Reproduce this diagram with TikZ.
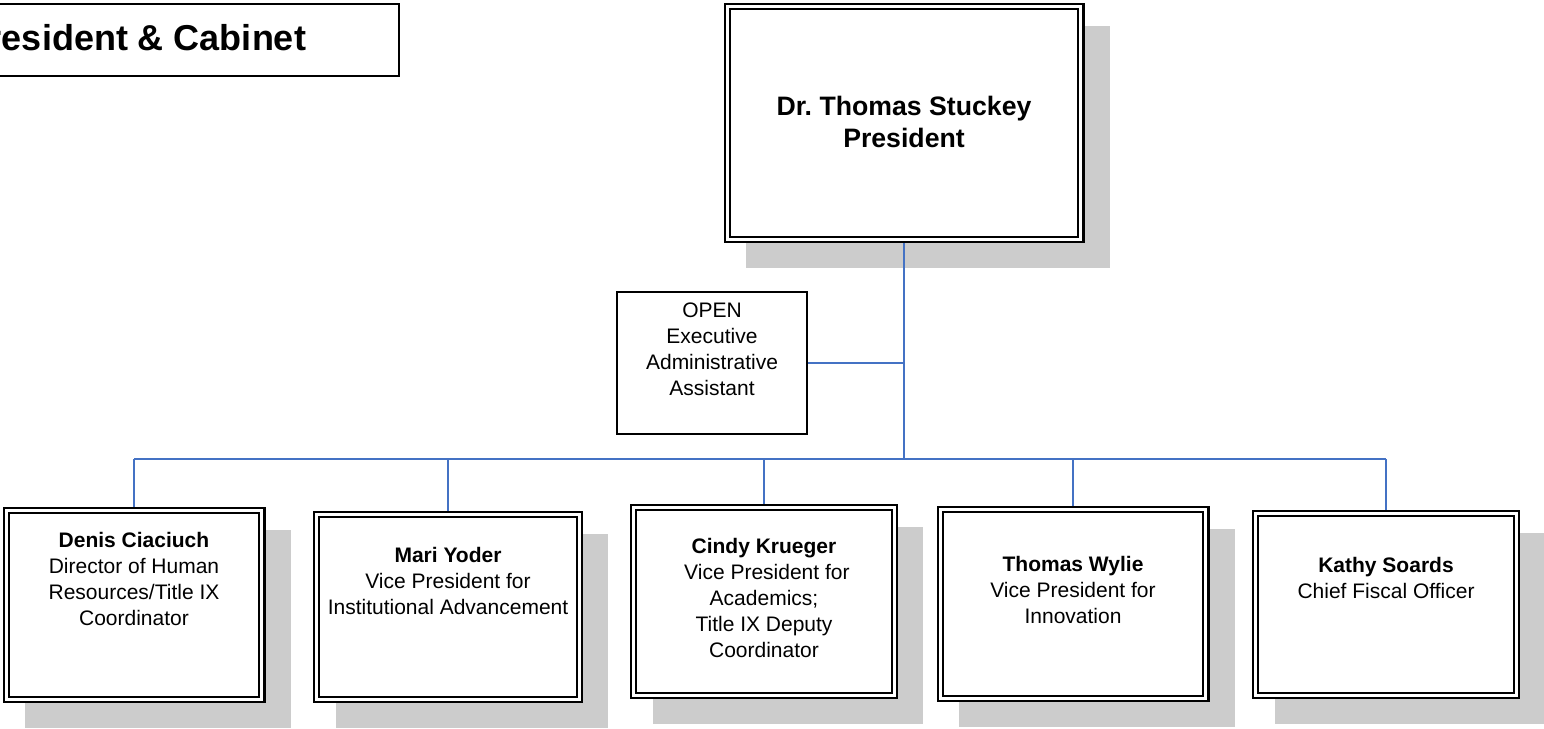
\documentclass[tikz,border=0pt]{standalone}
\usepackage{fontspec}
\setmainfont{Liberation Sans}
\usetikzlibrary{backgrounds}
\definecolor{shadowgray}{RGB}{204,204,204}
\definecolor{connblue}{RGB}{68,114,196}
\frenchspacing
\begin{document}
\begin{tikzpicture}[x=0.75pt,y=-0.75pt,
  dbox/.style 2 args={draw, line width=1.6pt, double, double distance=2.2pt, fill=white, inner sep=0pt, minimum width=#1*0.75pt, minimum height=#2*0.75pt},
  sbox/.style 2 args={draw, line width=1.3pt, fill=white, inner sep=0pt, minimum width=#1*0.75pt, minimum height=#2*0.75pt},
  txt/.style={align=center, anchor=base, inner sep=0pt, font=\fontsize{15.75pt}{19.5pt}\selectfont},
  ptxt/.style={align=center, anchor=base, inner sep=0pt, font=\bfseries\fontsize{20pt}{24pt}\selectfont},
  conn/.style={draw=connblue, line width=1.3pt},
  shadowbox/.style={fill=shadowgray}]
\useasboundingbox (0,0) rectangle (1544,728);

% title
\node[sbox={529}{72}, line width=1.5pt] (titlebox) at (134.5,40) {};
\node[anchor=base, inner sep=0pt, font=\bfseries\fontsize{27pt}{32pt}\selectfont] (title) at (135,50) {President \& Cabinet};

% president
\node[dbox={353.8}{232.8}] (pres) at (904,123) {};
\node[ptxt] (prest) at (904,147) {Dr. Thomas Stuckey\\President};

% open
\node[sbox={190.3}{142.3}] (open) at (712,363) {};
\node[txt] (opent) at (712,395) {OPEN\\Executive\\Administrative\\Assistant};

% bottom row
\node[dbox={255.8}{188.8}] (denis) at (134,605) {};
\node[txt] (denist) at (134,625) {\textbf{Denis Ciaciuch}\\Director of Human\\Resources/Title IX\\Coordinator};

\node[dbox={262.8}{184.8}] (mari) at (448,607) {};
\node[txt] (marit) at (448,614) {\textbf{Mari Yoder}\\Vice President for\\Institutional Advancement};

\node[dbox={260.8}{187.8}] (cindy) at (764,601.5) {};
\node[txt] (cindyt) at (764,657) {\textbf{Cindy Krueger}\\\ Vice President for\\Academics;\\Title IX Deputy\\Coordinator};

\node[dbox={265.8}{188.8}] (wylie) at (1073,604) {};
\node[txt] (wyliet) at (1073,623) {\textbf{Thomas Wylie}\\Vice President for\\Innovation};

\node[dbox={260.8}{181.8}] (kathy) at (1386,604.5) {};
\node[txt] (kathyt) at (1386,598) {\textbf{Kathy Soards}\\Chief Fiscal Officer};

\coordinate (busy) at (0,459);

\begin{scope}[on background layer]
  \foreach \n in {pres,denis,mari,cindy,wylie,kathy}{
    \fill[shadowbox] ([shift={(20.4,20.4)}]\n.north west) rectangle ([shift={(27.6,27.6)}]\n.south east);
  }
  \draw[conn] (pres.south) -- (pres.south |- busy);
  \draw[conn] (open.east) -- (open.east -| pres.south);
  \draw[conn] (denis.north |- busy) -- (kathy.north |- busy);
  \foreach \n in {denis,mari,cindy,wylie,kathy}{
    \draw[conn] (\n.north |- busy) -- (\n.north);
  }
\end{scope}
\end{tikzpicture}
\end{document}
